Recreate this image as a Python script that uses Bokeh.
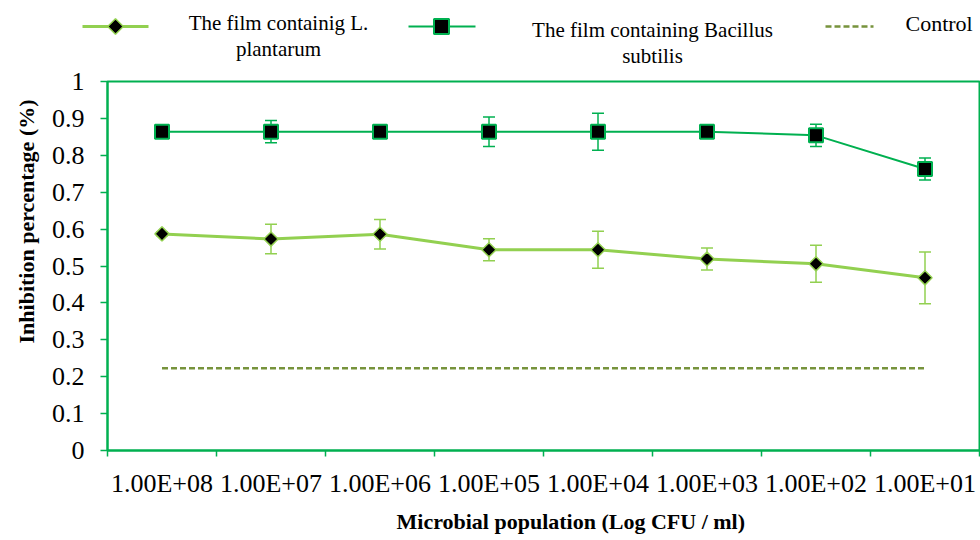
import numpy as np
from bokeh.plotting import figure
from bokeh.models import (FactorRange, Range1d, LinearAxis, CategoricalAxis, FixedTicker,
                          Whisker, ColumnDataSource, TeeHead, Title)
from bokeh.layouts import column
from bokeh.core.properties import value
from bokeh.embed import file_html
from bokeh.resources import INLINE

# ---------------- data ----------------
categories = ["1.00E+08", "1.00E+07", "1.00E+06", "1.00E+05",
              "1.00E+04", "1.00E+03", "1.00E+02", "1.00E+01"]
plantarum = [0.587, 0.573, 0.586, 0.544, 0.544, 0.519, 0.506, 0.468]
plantarum_err = [0.005, 0.040, 0.040, 0.030, 0.050, 0.030, 0.050, 0.070]
bacillus = [0.864, 0.864, 0.864, 0.864, 0.864, 0.864, 0.854, 0.763]
bacillus_err = [0.005, 0.030, 0.005, 0.040, 0.050, 0.005, 0.030, 0.030]
control = [0.223, 0.223, 0.223, 0.223, 0.223, 0.223, 0.223, 0.223]
y_ticks = [0, 0.1, 0.2, 0.3, 0.4, 0.5, 0.6, 0.7, 0.8, 0.9, 1]
y_tick_labels = ["0", "0.1", "0.2", "0.3", "0.4", "0.5", "0.6", "0.7", "0.8", "0.9", "1"]

name_pl = ["The film containig L.", "plantarum"]
name_ba = ["The film containing Bacillus", "subtilis"]
name_ct = "Control"
x_title = "Microbial population (Log CFU / ml)"
y_title = "Inhibition percentage (%)"

# ---------------- styles ----------------
C_BA = "#00B050"
C_PL = "#92D050"
C_CT = "#77933C"
SERIF = "Liberation Serif"

# ---------------- main figure ----------------
p = figure(width=980, height=474,
           x_range=FactorRange(factors=categories), y_range=Range1d(0, 1),
           x_axis_location=None, output_backend="svg", toolbar_location=None,
           min_border_left=107, min_border_right=1, min_border_top=15, min_border_bottom=88)
p.xgrid.visible = False
p.ygrid.visible = False
p.outline_line_color = C_BA
p.outline_line_width = 2
p.background_fill_color = "white"
p.border_fill_color = "white"

ya = p.yaxis[0]
ya.ticker = FixedTicker(ticks=y_ticks)
ya.major_label_overrides = {t: l for t, l in zip(y_ticks, y_tick_labels)}
ya.minor_tick_line_color = None
ya.axis_line_color = C_BA
ya.axis_line_width = 2
ya.major_tick_line_color = C_BA
ya.major_tick_line_width = 1.5
ya.major_tick_out = 7
ya.major_tick_in = 0
ya.major_label_text_font = SERIF
ya.major_label_text_font_size = "26px"
ya.major_label_text_color = "black"
ya.major_label_standoff = 16

p.add_layout(Title(text=y_title, align="left", offset=107, standoff=20,
                   text_font=SERIF, text_font_style="bold", text_font_size="22px",
                   text_color="black"), "left")

# tick marks between categories (synthetic coordinates of the factor range)
edge_axis = LinearAxis(ticker=FixedTicker(ticks=list(range(len(categories) + 1))),
                       major_label_overrides={i: "" for i in range(len(categories) + 1)},
                       major_label_text_font_size="0px", major_label_standoff=0,
                       major_tick_out=6, major_tick_in=0, minor_tick_line_color=None,
                       axis_line_color=C_BA, axis_line_width=2,
                       major_tick_line_color=C_BA, major_tick_line_width=1.5)
p.add_layout(edge_axis, "below")

cat_axis = CategoricalAxis(axis_line_color=None, major_tick_line_color=None,
                           major_tick_out=0, major_tick_in=0,
                           major_label_text_font=SERIF, major_label_text_font_size="26px",
                           major_label_text_color="black", major_label_standoff=12)
p.add_layout(cat_axis, "below")

p.add_layout(Title(text=x_title, align="left", offset=289, standoff=13,
                   text_font=SERIF, text_font_style="bold", text_font_size="22px",
                   text_color="black"), "below")

# control
p.line(categories, control, line_color=C_CT, line_width=2.5, line_dash="6 3")

# error bars
src_pl = ColumnDataSource(dict(x=categories,
                               upper=[v + e for v, e in zip(plantarum, plantarum_err)],
                               lower=[v - e for v, e in zip(plantarum, plantarum_err)]))
src_ba = ColumnDataSource(dict(x=categories,
                               upper=[v + e for v, e in zip(bacillus, bacillus_err)],
                               lower=[v - e for v, e in zip(bacillus, bacillus_err)]))
for src, col in ((src_pl, C_PL), (src_ba, C_BA)):
    w = Whisker(base="x", upper="upper", lower="lower", source=src,
                line_color=col, line_width=1.5,
                upper_head=TeeHead(size=12, line_color=col, line_width=1.5),
                lower_head=TeeHead(size=12, line_color=col, line_width=1.5))
    p.add_layout(w)

# series
p.line(categories, plantarum, line_color=C_PL, line_width=3)
p.line(categories, bacillus, line_color=C_BA, line_width=2)
p.scatter(categories, plantarum, marker="square", angle=np.pi / 4, size=10,
          fill_color="black", line_color=C_PL, line_width=1.5)
p.scatter(categories, bacillus, marker="square", size=14,
          fill_color="black", line_color=C_BA, line_width=2)

# ---------------- legend figure ----------------
L = figure(width=980, height=66, x_range=Range1d(0, 980), y_range=Range1d(0, 66),
           output_backend="svg", toolbar_location=None,
           min_border=0, outline_line_color=None)
L.axis.visible = False
L.xgrid.visible = False
L.ygrid.visible = False
for fig in (L, p):
    if "frame_align" in fig.properties():
        fig.frame_align = False

ly = 40
L.line([82, 148], [ly, ly], line_color=C_PL, line_width=3)
L.scatter([115], [ly], marker="square", angle=np.pi / 4, size=11,
          fill_color="black", line_color=C_PL, line_width=1.5)
L.text([278, 278], [44, 18], text=name_pl, text_font=value(SERIF), text_font_size="21px",
       text_align="center", text_baseline="middle", text_color="black")

L.line([408, 475], [ly, ly], line_color=C_BA, line_width=2)
L.scatter([441], [ly], marker="square", size=15,
          fill_color="black", line_color=C_BA, line_width=2)
L.text([652, 652], [37, 11], text=name_ba, text_font=value(SERIF), text_font_size="21px",
       text_align="center", text_baseline="middle", text_color="black")

L.line([825, 873], [ly, ly], line_color=C_CT, line_width=2.5, line_dash="6 3")
L.text([905], [43], text=[name_ct], text_font=value(SERIF), text_font_size="22px",
       text_align="left", text_baseline="middle", text_color="black")

layout = column(L, p, spacing=0)
open("out.html", "w").write(file_html(layout, INLINE))
